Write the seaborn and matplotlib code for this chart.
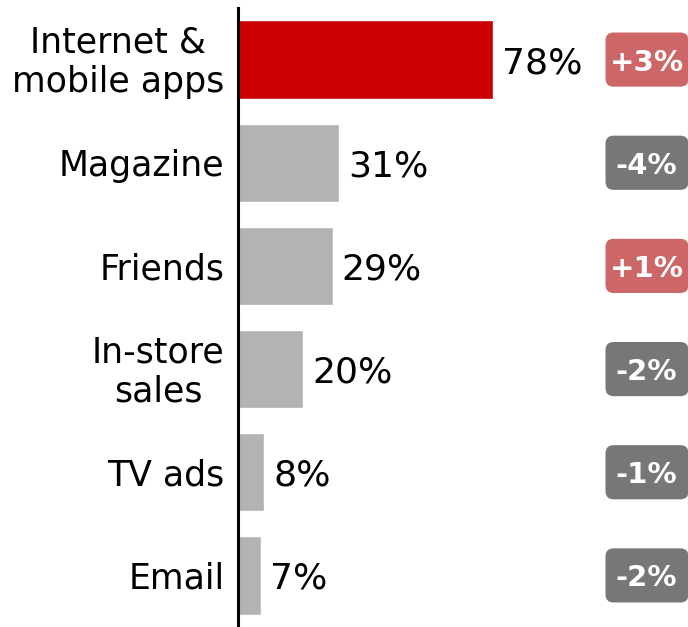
import matplotlib
matplotlib.use("Agg")
import matplotlib.pyplot as plt
import matplotlib.transforms as mtransforms
from matplotlib.patches import FancyBboxPatch
import seaborn as sns
import pandas as pd

categories = ["Internet &\nmobile apps", "Magazine", "Friends", "In-store\nsales", "TV ads", "Email"]
shares = [78, 31, 29, 20, 8, 7]
changes = [3, -4, 1, -2, -1, -2]

bar_colors = ["#cc0000"] + ["#b3b3b3"] * 5
up_color = "#cd6666"
down_color = "#777777"

sns.set_theme(style="white")
plt.rcParams["font.family"] = ["DejaVu Sans"]

df = pd.DataFrame({"channel": categories, "share": shares})

W, H = 6.88, 6.27
fig = plt.figure(figsize=(W, H), dpi=100)
ax = fig.add_axes([238 / 688, 0, 450 / 688, 619 / 627])

sns.barplot(data=df, y="channel", x="share", hue="channel", palette=bar_colors,
            orient="h", width=0.76, legend=False, ax=ax, saturation=1)

ax.set_xlim(0, 450 / 3.27)
ax.set_ylim(5.5, -0.5)
ax.set_xlabel("")
ax.set_ylabel("")
ax.set_xticks([])
ax.set_yticklabels([])
ax.tick_params(axis="y", length=0)
for s in ["top", "right", "bottom"]:
    ax.spines[s].set_visible(False)
ax.spines["left"].set_color("black")
ax.spines["left"].set_linewidth(2.2)

# category names, right-aligned against the axis, centred line by line
lab_trans = mtransforms.blended_transform_factory(fig.dpi_scale_trans, ax.transData)
for i, name in enumerate(categories):
    multi = "\n" in name
    ax.text(2.245, i + (0.03 if multi else 0.0), name, transform=lab_trans,
            ha="right", va="center" if multi else "center_baseline",
            multialignment="center", linespacing=1.2, fontsize=25, color="black")

# value labels next to each bar
for i, v in enumerate(shares):
    ax.text(v + 9 / 3.27, i, f"{v}%", va="center_baseline", ha="left", fontsize=26, color="black")

# change badges at the right edge
trans = mtransforms.blended_transform_factory(fig.dpi_scale_trans, ax.transData)
bw, bh = 0.83, 0.525
x0 = 6.055
for i, c in enumerate(changes):
    col = up_color if c > 0 else down_color
    patch = FancyBboxPatch((x0, i - bh / 2), bw, bh,
                           boxstyle="round,pad=0,rounding_size=0.08",
                           transform=trans, facecolor=col, edgecolor="none",
                           clip_on=False)
    ax.add_patch(patch)
    label = f"+{c}%" if c > 0 else f"{c}%"
    ax.text(x0 + bw / 2 - 0.005, i, label, transform=trans, ha="center", va="center_baseline",
            fontsize=21, fontweight="bold", color="white", clip_on=False)

fig.savefig("out.png", dpi=100)
